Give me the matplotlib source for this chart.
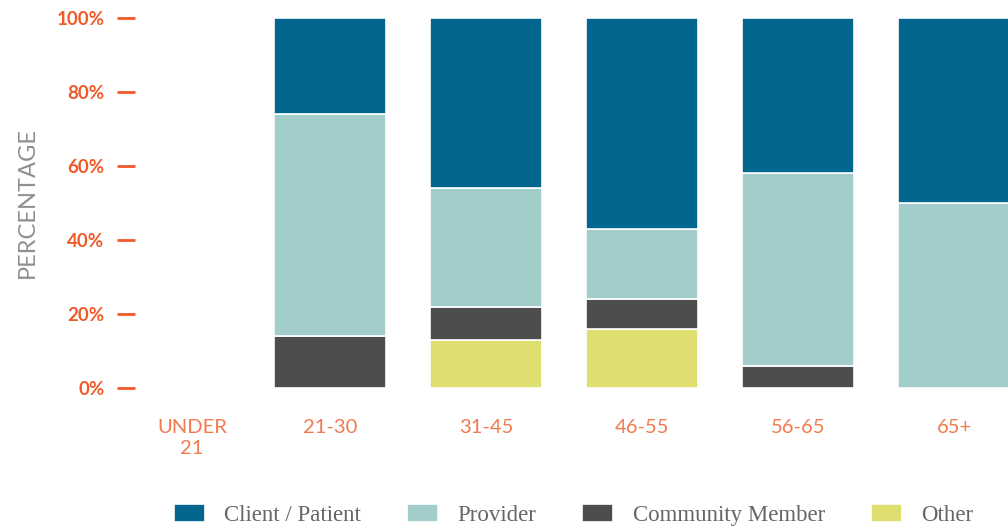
import numpy as np
import matplotlib
matplotlib.use('Agg')
import matplotlib.pyplot as plt
from matplotlib.transforms import ScaledTranslation

groups = ['UNDER\n21', '21-30', '31-45', '46-55', '56-65', '65+']
other     = [0, 0, 13, 16, 0, 0]
community = [0, 14, 9, 8, 6, 0]
provider  = [0, 60, 32, 19, 52, 50]
client    = [0, 26, 46, 57, 42, 50]

series = [('Other', other, '#dfdf70'),
          ('Community Member', community, '#4d4d4d'),
          ('Provider', provider, '#a2cdcb'),
          ('Client / Patient', client, '#02668f')]

orange = '#f05a28'

fig = plt.figure(figsize=(10.08, 5.27), dpi=100)
ax = fig.add_axes([135/1008, (527-388)/527, 1 - 135/1008, 370/527])

x = np.arange(len(groups))
bottom = np.zeros(len(groups))
bars = {}
for name, vals, col in series:
    bars[name] = ax.bar(x, vals, 0.718, bottom=bottom, color=col,
                        edgecolor='white', linewidth=1.2, label=name)
    bottom += np.array(vals)

ax.set_xlim(-0.25, 5 + 54/156)
ax.set_ylim(0, 100)
for s in ax.spines.values():
    s.set_visible(False)

ax.set_yticks([0, 20, 40, 60, 80, 100])
ax.set_yticklabels(['0%', '20%', '40%', '60%', '80%', '100%'],
                   family=['Lato', 'DejaVu Sans'], fontweight='bold',
                   fontsize=13.5, color=orange)
ax.tick_params(axis='y', length=13, width=2, color=orange, pad=9)

ax.set_xticks(x)
ax.set_xticklabels(groups, family=['Lato', 'DejaVu Sans'], fontweight='normal',
                   fontsize=14.5, color='#f27a50', linespacing=1.3)
ax.tick_params(axis='x', length=0, pad=22)
# first label sits a bit right of its slot in the original
first = ax.get_xticklabels()[0]
first.set_transform(first.get_transform() + ScaledTranslation(0.18, 0, fig.dpi_scale_trans))

ax.set_ylabel('PERCENTAGE', family=['Lato', 'DejaVu Sans'], fontweight='normal',
              fontsize=17, color='#8f8f8f')
ax.yaxis.set_label_coords(-(135-38)/873, 0.5)

order = ['Client / Patient', 'Provider', 'Community Member', 'Other']
fig.legend([bars[n] for n in order], order, loc='center', ncol=4,
           bbox_to_anchor=(0.569, (527-515)/527), frameon=False,
           prop={'family': 'Liberation Serif', 'size': 16.5},
           labelcolor='#666666', handlelength=1.35, handleheight=0.85,
           handletextpad=0.85, columnspacing=2.0)

fig.savefig('out.png', dpi=100)
